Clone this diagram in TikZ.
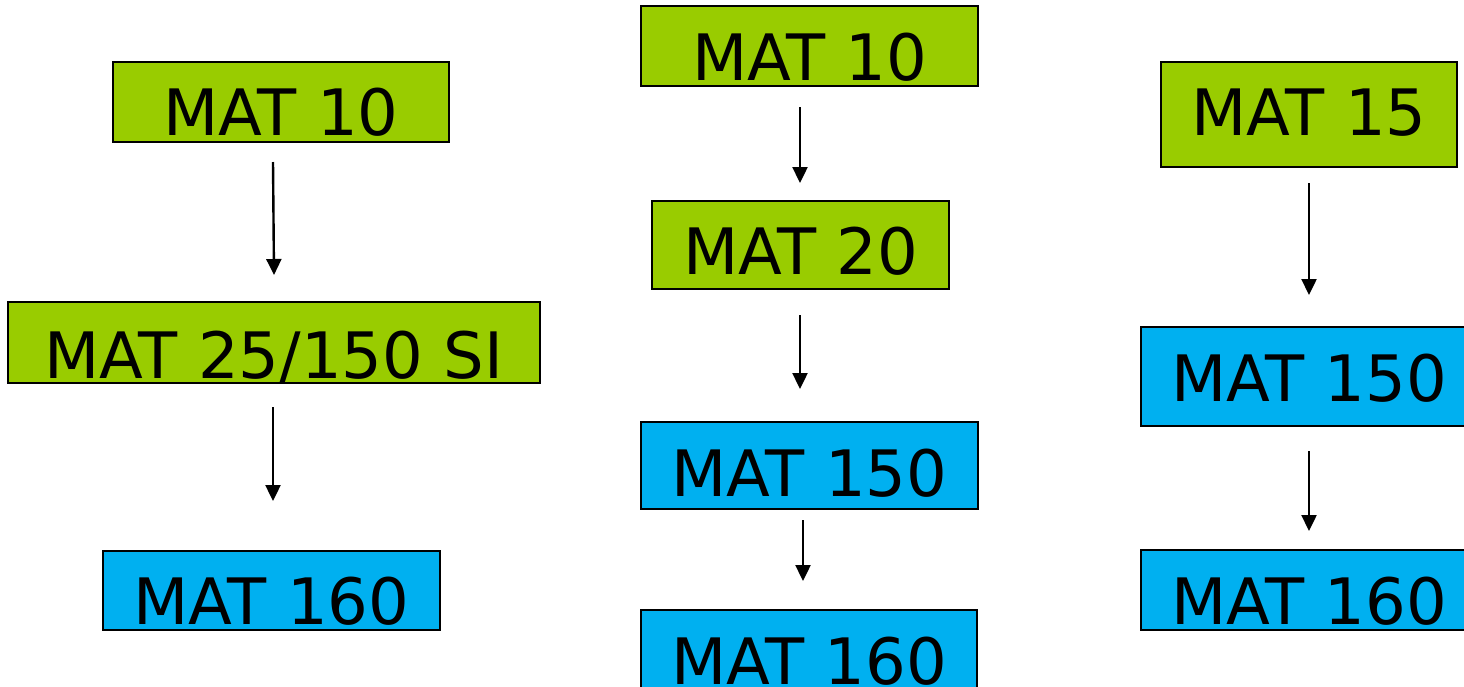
\documentclass[tikz,border=0pt]{standalone}
\usepackage{fontspec}
\setmainfont{DejaVu Sans}
\usetikzlibrary{arrows.meta}
\definecolor{boxgreen}{HTML}{99CC00}
\definecolor{boxblue}{HTML}{00B0F0}
\tikzset{
  course/.style={draw=black, line width=1.6pt, inner sep=0pt, anchor=base,
    font=\fontsize{64}{70}\selectfont},
  greenbox/.style={course, fill=boxgreen},
  bluebox/.style={course, fill=boxblue},
  arr/.style={line width=2.4pt, -{Triangle[width=15pt,length=16pt]}}
}
\begin{document}
\begin{tikzpicture}[x=1pt,y=-1pt]
\clip (0,0) rectangle (1464,686);
\fill[white] (0,0) rectangle (1464,686);
% left column
\node[greenbox, minimum width=336pt, text height=73pt, text depth=7pt] (l1) at (281,135) {MAT 10};
\node[greenbox, minimum width=532pt, text height=76pt, text depth=5pt] (l2) at (274,378) {MAT 25/150 SI};
\node[bluebox, minimum width=337pt, text height=73pt, text depth=6pt] (l3) at (271.5,624) {MAT 160};
% middle column
\node[greenbox, minimum width=337pt, text height=74pt, text depth=6pt] (m1) at (809.5,80) {MAT 10};
\node[greenbox, minimum width=297pt, text height=73pt, text depth=15pt] (m2) at (800.5,274) {MAT 20};
\node[bluebox, minimum width=337pt, text height=74pt, text depth=13pt] (m3) at (809.5,496) {MAT 150};
\node[bluebox, minimum width=336pt, text height=74pt, text depth=16pt] (m4) at (809,684) {MAT 160};
% right column
\node[greenbox, minimum width=296pt, text height=73pt, text depth=32pt] (r1) at (1309,135) {MAT 15};
\node[bluebox, minimum width=336pt, text height=74pt, text depth=25pt] (r2) at (1309,401) {MAT 150};
\node[bluebox, minimum width=336pt, text height=74pt, text depth=6pt] (r3) at (1309,624) {MAT 160};
% connector ends
\coordinate (a1s) at (273,162);  \coordinate (a1e) at (274,275);
\coordinate (a2s) at (273,407);  \coordinate (a2e) at (273,501);
\coordinate (a3s) at (800,107);  \coordinate (a3e) at (800,183);
\coordinate (a4s) at (800,315);  \coordinate (a4e) at (800,389);
\coordinate (a5s) at (803,520);  \coordinate (a5e) at (803,581);
\coordinate (a6s) at (1309,183); \coordinate (a6e) at (1309,295);
\coordinate (a7s) at (1309,451); \coordinate (a7e) at (1309,531);
\draw[arr] (a1s) -- (a1e);
\draw[arr] (a2s) -- (a2e);
\draw[arr] (a3s) -- (a3e);
\draw[arr] (a4s) -- (a4e);
\draw[arr] (a5s) -- (a5e);
\draw[arr] (a6s) -- (a6e);
\draw[arr] (a7s) -- (a7e);
\end{tikzpicture}
\end{document}
